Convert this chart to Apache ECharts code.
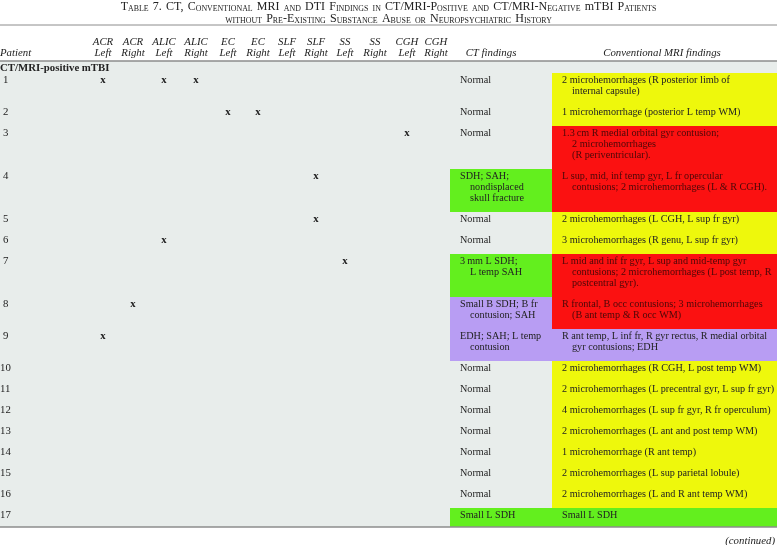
<!DOCTYPE html>
<html><head><meta charset="utf-8">
<script src="https://cdn.jsdelivr.net/npm/echarts@6/dist/echarts.min.js"></script>
<style>html,body{margin:0;padding:0;background:#fff}#c{width:777px;height:545px}</style>
</head><body><div id="c"></div>
<script>
// ---------------- DATA ----------------
const titleLine1 = 'Table 7. CT, Conventional MRI and DTI Findings in CT/MRI-Positive and CT/MRI-Negative mTBI Patients';
const titleLine2 = 'without Pre-Existing Substance Abuse or Neuropsychiatric History';
const patientHeader = 'Patient';
const regionNames = ['ACR','ACR','ALIC','ALIC','EC','EC','SLF','SLF','SS','SS','CGH','CGH'];
const regionSides = ['Left','Right','Left','Right','Left','Right','Left','Right','Left','Right','Left','Right'];
const ctHeader = 'CT findings';
const mriHeader = 'Conventional MRI findings';
const sectionLabel = 'CT/MRI-positive mTBI';
const continuedLabel = '(continued)';
const patients = ['1','2','3','4','5','6','7','8','9','10','11','12','13','14','15','16','17'];
// indices into region columns marked with "x"
const regionMarks = [[0,2,3],[4,5],[10],[7],[7],[2],[8],[1],[0],[],[],[],[],[],[],[],[]];
const ctFindings = [
  ['Normal'],['Normal'],['Normal'],
  ['SDH; SAH;','nondisplaced','skull fracture'],
  ['Normal'],['Normal'],
  ['3\u2009mm L SDH;','L temp SAH'],
  ['Small B SDH; B fr','contusion; SAH'],
  ['EDH; SAH; L temp','contusion'],
  ['Normal'],['Normal'],['Normal'],['Normal'],['Normal'],['Normal'],['Normal'],
  ['Small L SDH']
];
const ctCategory = [null,null,null,'G',null,null,'G','P','P',null,null,null,null,null,null,null,'G'];
const mriFindings = [
  ['2 microhemorrhages (R posterior limb of','internal capsule)'],
  ['1 microhemorrhage (posterior L temp WM)'],
  ['1.3\u2009cm R medial orbital gyr contusion;','2 microhemorrhages','(R periventricular).'],
  ['L sup, mid, inf temp gyr, L fr opercular','contusions; 2 microhemorrhages (L & R CGH).'],
  ['2 microhemorrhages (L CGH, L sup fr gyr)'],
  ['3 microhemorrhages (R genu, L sup fr gyr)'],
  ['L mid and inf fr gyr, L sup and mid-temp gyr','contusions; 2 microhemorrhages (L post temp, R','postcentral gyr).'],
  ['R frontal, B occ contusions; 3 microhemorrhages','(B ant temp & R occ WM)'],
  ['R ant temp, L inf fr, R gyr rectus, R medial orbital','gyr contusions; EDH'],
  ['2 microhemorrhages (R CGH, L post temp WM)'],
  ['2 microhemorrhages (L precentral gyr, L sup fr gyr)'],
  ['4 microhemorrhages (L sup fr gyr, R fr operculum)'],
  ['2 microhemorrhages (L ant and post temp WM)'],
  ['1 microhemorrhage (R ant temp)'],
  ['2 microhemorrhages (L sup parietal lobule)'],
  ['2 microhemorrhages (L and R ant temp WM)'],
  ['Small L SDH']
];
const mriCategory = ['Y','Y','R','R','Y','Y','R','R','P','Y','Y','Y','Y','Y','Y','Y','G'];

// ---------------- LAYOUT / STYLE ----------------
const W = 777, H = 545;
const FONT = '"Liberation Serif","Times New Roman",serif';
const FS = 10.2, FS_HEAD = 10.8, FS_MARK = 10.8;
const TEXT = '#222222';
const COLORS = {Y:'#eef80c', R:'#fb1111', G:'#63ef1e', P:'#b89df3'};
const L = {
  colCenters: [103,133,164,196,228,258,287,316,345,375,407,436],
  ctX0: 450, ctX1: 552, mriX0: 552, mriX1: 777,
  ctTextX: 460, mriTextX: 562, indent: 10,
  ctHeadX: 491, mriHeadX: 662,
  title1Y: 6, title2Y: 18, topRuleY: 25,
  head1Y: 42, head2Y: 53, headRuleY: 61,
  sectionY: 68, firstRowTop: 73,
  lineH: 11, rowPad: 10, firstLineOff: 7,
  bottomRuleY: 527, continuedY: 541
};

// ---------------- BUILD ----------------
const rowTop = [], rowBottom = [];
let yy = L.firstRowTop;
patients.forEach((p, i) => {
  const n = Math.max(ctFindings[i].length, mriFindings[i].length);
  rowTop.push(yy);
  yy += L.rowPad + L.lineH * n;
  rowBottom.push(Math.min(yy, L.bottomRuleY));
});

const rects = []; // [x0,y0,x1,y1,colorKeyIndex]
const colorKeys = Object.keys(COLORS);
rects.push([0, L.headRuleY, W, L.bottomRuleY, -1]);
patients.forEach((p, i) => {
  if (ctCategory[i]) rects.push([L.ctX0, rowTop[i], L.ctX1, rowBottom[i], colorKeys.indexOf(ctCategory[i])]);
  if (mriCategory[i]) rects.push([L.mriX0, rowTop[i], L.mriX1, rowBottom[i], colorKeys.indexOf(mriCategory[i])]);
});

const rules = [ [0, W, L.topRuleY, 1], [0, W, L.headRuleY, 1.6], [0, W, L.bottomRuleY, 1.6] ];

const texts = []; // {x,y,text,align,style,fill,size}
function addText(x, y, text, align, style, fill, size) { texts.push({x, y, text, align, style: style || 'normal', fill, size: size || FS}); }
addText(0, L.head2Y, patientHeader, 'left', 'italic', null, FS_HEAD);
regionNames.forEach((r, k) => {
  addText(L.colCenters[k], L.head1Y, r, 'center', 'italic', null, FS_HEAD);
  addText(L.colCenters[k], L.head2Y, regionSides[k], 'center', 'italic', null, FS_HEAD);
});
addText(L.ctHeadX, L.head2Y, ctHeader, 'center', 'italic', null, FS_HEAD);
addText(L.mriHeadX, L.head2Y, mriHeader, 'center', 'italic', null, FS_HEAD);
addText(0, L.sectionY, sectionLabel, 'left', 'bold', null, FS_HEAD);
patients.forEach((p, i) => {
  const ty = rowTop[i] + L.firstLineOff;
  addText(p.length === 1 ? 3 : 0, ty, p, 'left', 'normal', null, FS_HEAD);
  regionMarks[i].forEach(k => addText(L.colCenters[k], ty, 'x', 'center', 'bold', null, FS_MARK));
  ctFindings[i].forEach((t, j) => addText(L.ctTextX + (j ? L.indent : 0), ty + j * L.lineH, t, 'left', 'normal',
      ctCategory[i] === 'R' ? '#4a0808' : TEXT));
  mriFindings[i].forEach((t, j) => addText(L.mriTextX + (j ? L.indent : 0), ty + j * L.lineH, t, 'left', 'normal',
      mriCategory[i] === 'R' ? '#4a0808' : TEXT));
});
addText(W - 2, L.continuedY, continuedLabel, 'right', 'italic', null, FS_HEAD);

// small-caps conversion into rich-text tokens
function smallCaps(s) {
  let out = '', cur = null, buf = '';
  const flush = () => { if (buf) out += '{' + cur + '|' + buf + '}'; buf = ''; };
  const push = (st, ch) => { if (st !== cur) { flush(); cur = st; } buf += ch; };
  s.split(' ').forEach((w, i) => {
    if (i > 0) { flush(); cur = null; out += '{w| }'; }
    if (w === 'mTBI') { for (const ch of w) push('b', ch); return; }
    for (const ch of w) {
      if (ch >= 'a' && ch <= 'z') push('s', ch.toUpperCase());
      else push('b', ch);
    }
  });
  flush();
  return out;
}
const titleItems = [[W / 2, L.title1Y, 0], [W / 2, L.title2Y, 1]];
const titleStrings = [smallCaps(titleLine1), smallCaps(titleLine2)];

const chart = echarts.init(document.getElementById('c'));
chart.setOption({
  animation: false,
  grid: {left: 0, right: 0, top: 0, bottom: 0},
  xAxis: {type: 'value', min: 0, max: W, show: false},
  yAxis: {type: 'value', min: 0, max: H, inverse: true, show: false},
  series: [
    {
      type: 'custom', data: rects, silent: true,
      renderItem: (params, api) => {
        const p0 = api.coord([api.value(0), api.value(1)]);
        const p1 = api.coord([api.value(2), api.value(3)]);
        const ci = api.value(4);
        return {type: 'rect', shape: {x: p0[0], y: p0[1], width: p1[0] - p0[0], height: p1[1] - p0[1]},
          style: {fill: ci < 0 ? '#e8edeb' : COLORS[colorKeys[ci]]}};
      }
    },
    {
      type: 'custom', data: rules, silent: true,
      renderItem: (params, api) => {
        const p0 = api.coord([api.value(0), api.value(2)]);
        const p1 = api.coord([api.value(1), api.value(2)]);
        return {type: 'line', shape: {x1: p0[0], y1: p0[1], x2: p1[0], y2: p1[1]},
          style: {stroke: '#8c8c8c', lineWidth: api.value(3)}};
      }
    },
    {
      type: 'custom', data: texts.map((t, i) => [t.x, t.y, i]), silent: true,
      renderItem: (params, api) => {
        const t = texts[api.value(2)];
        const p = api.coord([api.value(0), api.value(1)]);
        return {type: 'text', x: p[0], y: p[1],
          style: {text: t.text, fill: t.fill || TEXT, fontFamily: FONT, fontSize: t.size,
            fontStyle: t.style === 'italic' ? 'italic' : 'normal',
            fontWeight: t.style === 'bold' ? 'bold' : 'normal',
            align: t.align, verticalAlign: 'middle'}};
      }
    },
    {
      type: 'custom', data: titleItems, silent: true,
      renderItem: (params, api) => {
        const p = api.coord([api.value(0), api.value(1)]);
        return {type: 'text', x: p[0], y: p[1],
          style: {text: titleStrings[api.value(2)], fill: TEXT, align: 'center', verticalAlign: 'middle',
            rich: {
              b: {fontFamily: FONT, fontSize: 12, fill: TEXT, lineHeight: 13, verticalAlign: 'bottom'},
              s: {fontFamily: FONT, fontSize: 7.9, fill: TEXT, lineHeight: 13, verticalAlign: 'bottom', padding: [1.7, 0, 0, 0]},
              w: {fontFamily: FONT, fontSize: 7.9, width: 4.2, lineHeight: 13, verticalAlign: 'bottom'}
            }}};
      }
    }
  ]
});
</script></body></html>
